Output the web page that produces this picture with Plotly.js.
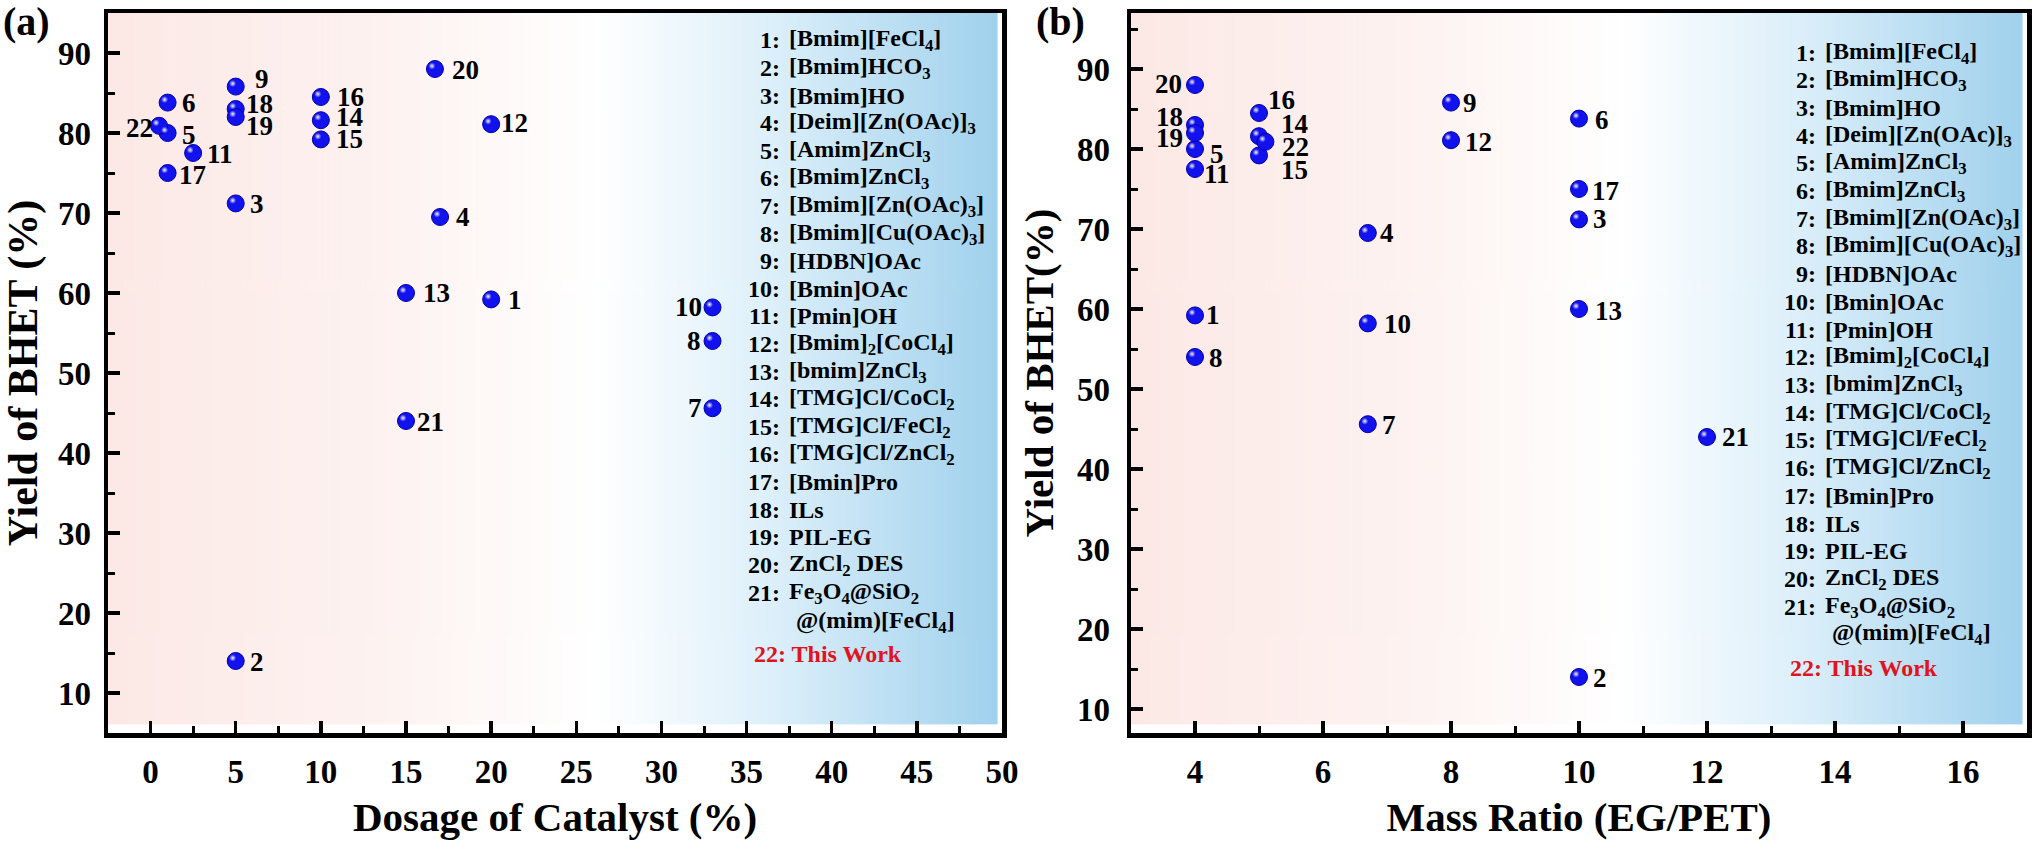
<!DOCTYPE html>
<html><head><meta charset="utf-8">
<script src="https://cdn.plot.ly/plotly-3.0.1.min.js"></script>
<style>html,body{margin:0;padding:0;background:#fff}#chart{width:2032px;height:841px}</style>
</head><body><div id="chart"></div>
<script>
// ---------------- data ----------------
const ids = [1,2,3,4,5,6,7,8,9,10,11,12,13,14,15,16,17,18,19,20,21,22];
const yieldBHET = [59.2,14,71.2,69.5,80,83.8,45.6,54,85.8,58.2,77.5,81.1,60,81.6,79.2,84.5,75,83,82,88,44,80.9];
const dosageCatalyst = [20,5,5,17,1,1,33,33,5,33,2.5,20,15,10,10,10,1,5,5,16.7,15,0.5];
const massRatio = [4,10,10,6.7,4,10,6.7,4,8,6.7,4,8,10,5,5,5,10,4,4,4,12,5.1];
const catalystNames = [
  '[Bmim][FeCl<sub>4</sub>]','[Bmim]HCO<sub>3</sub>','[Bmim]HO','[Deim][Zn(OAc)]<sub>3</sub>',
  '[Amim]ZnCl<sub>3</sub>','[Bmim]ZnCl<sub>3</sub>','[Bmim][Zn(OAc)<sub>3</sub>]','[Bmim][Cu(OAc)<sub>3</sub>]',
  '[HDBN]OAc','[Bmin]OAc','[Pmin]OH','[Bmim]<sub>2</sub>[CoCl<sub>4</sub>]','[bmim]ZnCl<sub>3</sub>',
  '[TMG]Cl/CoCl<sub>2</sub>','[TMG]Cl/FeCl<sub>2</sub>','[TMG]Cl/ZnCl<sub>2</sub>','[Bmin]Pro','ILs','PIL-EG',
  'ZnCl<sub>2</sub> DES','Fe<sub>3</sub>O<sub>4</sub>@SiO<sub>2</sub>'
];
const name21Line2 = '@(mim)[FeCl<sub>4</sub>]';
const thisWorkLabel = '22: This Work';
const xTitleA = 'Dosage of Catalyst (%)';
const xTitleB = 'Mass Ratio (EG/PET)';
const yTitleA = 'Yield of BHET (%)';
const yTitleB = 'Yield of BHET(%)';

// ---------------- styles ----------------
// label offsets in px [dx, dy(down)]
const labelOffA = [[24,1],[21,1],[21,1],[23,0],[21,2],[21,0],[-18,0],[-19,0],[26,-8],[-24,0],[27,1],[23,-1],[30,0],[29,-3],[29,0],[30,0],[25,2],[24,-5],[24,9],[31,1],[24,1],[-20,2]];
const labelOffB = [[18,0],[21,1],[21,0],[19,0],[22,5],[23,1],[21,1],[21,1],[19,0],[30,1],[22,5],[27,2],[29,2],[35,-12],[35,15],[22,-13],[26,2],[-26,-8],[-26,5],[-27,-1],[28,0],[30,5]];

const FONT = 'Liberation Serif, Times New Roman, serif';
const W = 2032, H = 841, TOP = 13, BOT = 733;
const PH = BOT - TOP;
const xa = [108, 1002], xb = [1131, 2027];
const yrA = [5, 95], yrB = [7, 97];

function gradURL(){
  const c = document.createElement('canvas'); c.width = 600; c.height = 4;
  const g = c.getContext('2d');
  const gr = g.createLinearGradient(0,0,600,0);
  gr.addColorStop(0,'rgb(252,233,230)');
  gr.addColorStop(0.3,'rgb(253,242,240)');
  gr.addColorStop(0.55,'rgb(255,255,255)');
  gr.addColorStop(0.75,'rgb(220,239,250)');
  gr.addColorStop(1,'rgb(160,209,237)');
  g.fillStyle = gr; g.fillRect(0,0,600,4);
  return c.toDataURL('image/png');
}
const bg = gradURL();

const tickFont = {family: FONT, size: 33, color: '#000', weight: 'bold'};
function axis(extra){
  return Object.assign({
    showline: true, linewidth: 4.5, linecolor: '#000', mirror: true,
    ticks: 'inside', ticklen: 12, tickwidth: 3.5, tickcolor: '#000',
    showgrid: false, zeroline: false, tickfont: tickFont, ticklabelstandoff: 6,
    fixedrange: true
  }, extra);
}
const px2 = (p) => p / W;
const py2 = (p) => (BOT - p) / PH;
const minorStyle = (d) => ({ticks: 'inside', ticklen: 7, tickwidth: 3, tickcolor: '#000', dtick: d, tick0: 0, showgrid: false});

const layout = {
  width: W, height: H,
  margin: {l: 0, r: 0, t: TOP, b: H - BOT, pad: 0},
  paper_bgcolor: '#fff', plot_bgcolor: 'rgba(0,0,0,0)',
  showlegend: false,
  xaxis: axis({domain: [px2(xa[0]), px2(xa[1])], range: [-2.5, 50], tick0: 0, dtick: 5, minor: minorStyle(2.5),
    title: {text: xTitleA, font: {family: FONT, size: 41, color: '#000', weight: 'bold'}, standoff: 14}, anchor: 'y'}),
  yaxis: axis({domain: [0, 1], range: yrA, tick0: 0, dtick: 10, minor: minorStyle(5),
    title: {text: yTitleA, font: {family: FONT, size: 42, color: '#000', weight: 'bold'}, standoff: 12}, anchor: 'x'}),
  xaxis2: axis({domain: [px2(xb[0]), px2(xb[1])], range: [3, 17], tick0: 0, dtick: 2, minor: minorStyle(1),
    title: {text: xTitleB, font: {family: FONT, size: 41, color: '#000', weight: 'bold'}, standoff: 14}, anchor: 'y2'}),
  yaxis2: axis({domain: [0, 1], range: yrB, tick0: 0, dtick: 10, minor: minorStyle(5), ticklabelstandoff: 10,
    title: {text: yTitleB, font: {family: FONT, size: 41, color: '#000', weight: 'bold'}, standoff: 12}, anchor: 'x2'}),
  // hidden overlay axes, shifted by a few px, used to place the sphere highlights
  xaxis3: {overlaying: 'x', visible: false, range: [-2.5 + 3*52.5/894, 50 + 3*52.5/894], fixedrange: true},
  yaxis3: {overlaying: 'y', visible: false, range: [yrA[0] - 3*90/PH, yrA[1] - 3*90/PH], fixedrange: true},
  xaxis4: {overlaying: 'x2', visible: false, range: [3 + 3*14/896, 17 + 3*14/896], fixedrange: true},
  yaxis4: {overlaying: 'y2', visible: false, range: [yrB[0] - 3*90/PH, yrB[1] - 3*90/PH], fixedrange: true},
  images: [
    {source: bg, xref: 'x domain', yref: 'y domain', x: 0, y: 1, sizex: 0.995, sizey: 0.988, sizing: 'stretch', xanchor: 'left', yanchor: 'top', layer: 'below'},
    {source: bg, xref: 'x2 domain', yref: 'y2 domain', x: 0, y: 1, sizex: 0.995, sizey: 0.988, sizing: 'stretch', xanchor: 'left', yanchor: 'top', layer: 'below'}
  ],
  annotations: []
};

const ptFont = {family: FONT, size: 27, color: '#000', weight: 'bold'};
ids.forEach((id, i) => {
  layout.annotations.push({x: dosageCatalyst[i], y: yieldBHET[i], xref: 'x', yref: 'y', text: String(id), showarrow: false,
    xshift: labelOffA[i][0], yshift: -labelOffA[i][1], font: ptFont, xanchor: 'center', yanchor: 'middle'});
  layout.annotations.push({x: massRatio[i], y: yieldBHET[i], xref: 'x2', yref: 'y2', text: String(id), showarrow: false,
    xshift: labelOffB[i][0], yshift: -labelOffB[i][1], font: ptFont, xanchor: 'center', yanchor: 'middle'});
});

// panel tags
const tagFont = {family: FONT, size: 40, color: '#000', weight: 'bold'};
layout.annotations.push({xref: 'paper', yref: 'paper', x: px2(26), y: py2(22), text: '(a)', showarrow: false, font: tagFont, xanchor: 'center', yanchor: 'middle'});
layout.annotations.push({xref: 'paper', yref: 'paper', x: px2(1060), y: py2(22), text: '(b)', showarrow: false, font: tagFont, xanchor: 'center', yanchor: 'middle'});

// legend lists
const legFont = {family: FONT, size: 24, color: '#000', weight: 'bold'};
const legRed = {family: FONT, size: 24, color: '#e0141e', weight: 'bold'};
function legend(colonX, nameX, y0, dy, yAt, y22){
  catalystNames.forEach((nm, i) => {
    const y = y0 + i*dy;
    layout.annotations.push({xref: 'paper', yref: 'paper', x: px2(colonX), y: py2(y), text: (i+1) + ':', showarrow: false, font: legFont, xanchor: 'right', yanchor: 'middle'});
    layout.annotations.push({xref: 'paper', yref: 'paper', x: px2(nameX), y: py2(y), text: nm, showarrow: false, font: legFont, xanchor: 'left', yanchor: 'middle'});
  });
  layout.annotations.push({xref: 'paper', yref: 'paper', x: px2(nameX + 7), y: py2(yAt), text: name21Line2, showarrow: false, font: legFont, xanchor: 'left', yanchor: 'middle'});
  layout.annotations.push({xref: 'paper', yref: 'paper', x: px2(colonX - 30), y: py2(y22), text: thisWorkLabel, showarrow: false, font: legRed, xanchor: 'left', yanchor: 'middle'});
}
legend(782, 787, 40.5, 27.6, 622, 654);
legend(1818, 1823, 52.6, 27.7, 634, 668);

const sphere = {size: 17, color: '#1212ee', line: {color: '#0000a8', width: 1}};
const hi = {size: 7, color: 'rgba(255,255,255,0)', gradient: {type: 'radial', color: 'rgba(255,255,255,0.95)'}, line: {width: 0}};
const traces = [
  {type: 'scatter', mode: 'markers', x: dosageCatalyst, y: yieldBHET, xaxis: 'x', yaxis: 'y', marker: sphere, hoverinfo: 'skip'},
  {type: 'scatter', mode: 'markers', x: dosageCatalyst, y: yieldBHET, xaxis: 'x3', yaxis: 'y3', marker: hi, hoverinfo: 'skip'},
  {type: 'scatter', mode: 'markers', x: massRatio, y: yieldBHET, xaxis: 'x2', yaxis: 'y2', marker: sphere, hoverinfo: 'skip'},
  {type: 'scatter', mode: 'markers', x: massRatio, y: yieldBHET, xaxis: 'x4', yaxis: 'y4', marker: hi, hoverinfo: 'skip'}
];
Plotly.newPlot('chart', traces, layout, {displayModeBar: false, staticPlot: true});
</script></body></html>
